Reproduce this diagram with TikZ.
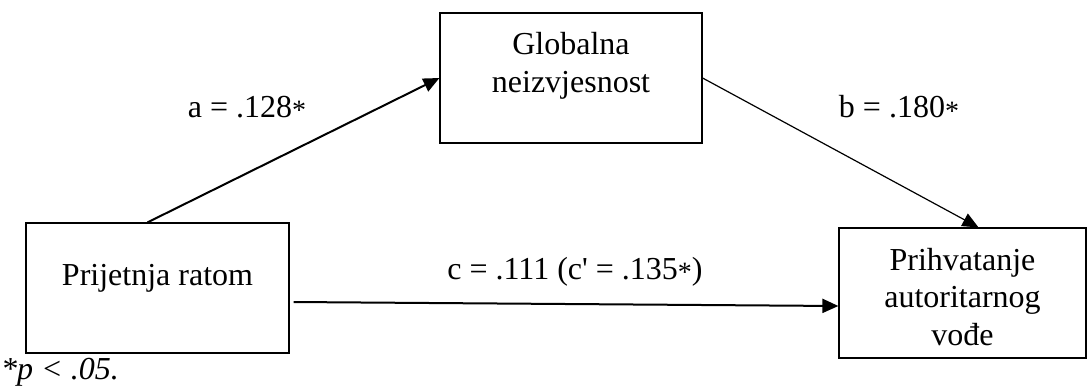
\documentclass[tikz,border=0pt]{standalone}
\usepackage{fontspec}
\setmainfont{Liberation Serif}
\usetikzlibrary{arrows.meta}
\newcommand{\sigstar}{\raisebox{-.07em}{\fontsize{28}{30}\selectfont *}}

\begin{document}
\begin{tikzpicture}[x=1pt,y=-1pt,->,>={Triangle[length=16pt,width=14pt]},
  main node/.style={rectangle,draw,line width=1.2pt,minimum height=130pt,
  inner sep=0pt},
  box text/.style={align=center,font=\fontsize{32}{37.5}\selectfont},
  coef/.style={font=\fontsize{32}{37}\selectfont,inner sep=0pt}]

  \useasboundingbox (0,0) rectangle (1089,386);

  \node[main node,minimum width=263pt] (threat) at (157.5,288) {};
  \node[main node,minimum width=262pt] (glob) at (571,78) {};
  \node[main node,minimum width=247pt] (accept) at (962.5,293) {};

  \node[box text] (threat text) at ([yshift=10pt]threat.center) {Prijetnja ratom};
  \node[box text] (glob text) at ([yshift=12pt]glob.center) {Globalna\\neizvjesnost};
  \node[box text] (accept text) at ([yshift=-4pt]accept.center) {Prihvatanje\\autoritarnog\\vođe};

  \path
    ([xshift=-10pt]threat.north) edge [line width=2pt] (glob.west)
    (glob.east) edge [line width=1.2pt] ([xshift=16pt]accept.north)
    ([xshift=4pt,yshift=-14pt]threat.east) edge [line width=2pt] ([yshift=-13pt]accept.west);

  \node[coef] (a label) at (247,108) {a = .128\sigstar};
  \node[coef] (b label) at (899,108) {b = .180\sigstar};
  \node[coef] (c label) at (575,272) {c = .111 (c\textquotesingle\ = .135\sigstar)};
  \node[coef,anchor=west,font=\fontsize{32}{37}\selectfont\itshape] (note) at (1,372) {*p < .05.};

\end{tikzpicture}
\end{document}
